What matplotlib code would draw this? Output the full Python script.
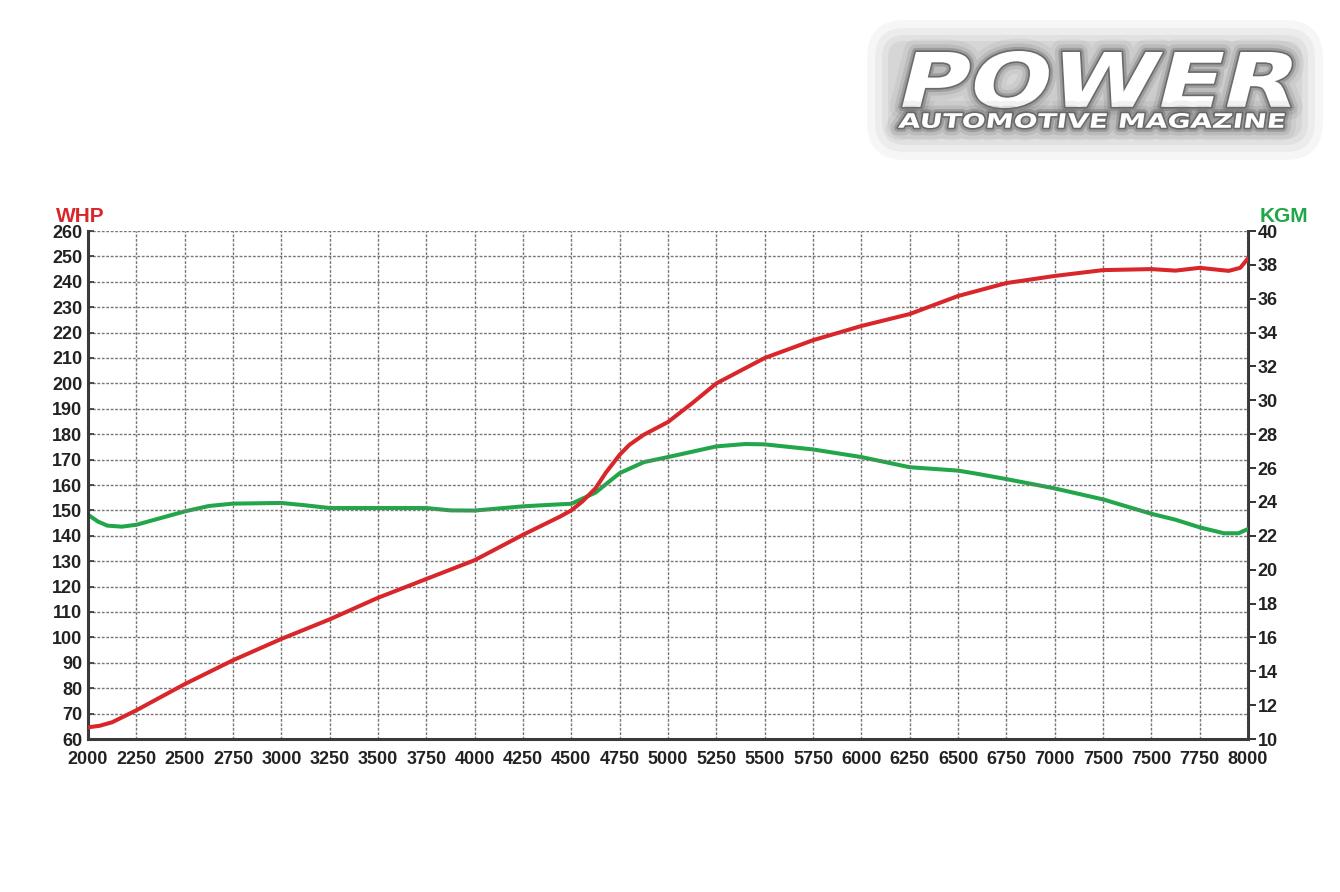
import matplotlib
matplotlib.use("Agg")
import math
import matplotlib.pyplot as plt
from matplotlib import font_manager
from matplotlib.textpath import TextPath
from matplotlib.patches import PathPatch, FancyBboxPatch
from matplotlib.transforms import Affine2D
import matplotlib.patheffects as pe

# ---------------- data ----------------
rpm_whp = [2000, 2060, 2125, 2250, 2500, 2750, 3000, 3250, 3500, 3750, 4000, 4250, 4440,
           4500, 4557, 4625, 4678, 4750, 4800, 4875, 4940, 5000, 5125, 5250, 5500, 5750,
           6000, 6250, 6500, 6750, 7000, 7250, 7500, 7625, 7750, 7900, 7960, 8000]
whp = [64.6, 65.2, 66.6, 71.3, 81.6, 91.0, 99.4, 107.1, 115.6, 123.0, 130.4, 140.4, 147.5,
       150.0, 153.5, 158.7, 164.8, 171.9, 175.8, 179.8, 182.4, 184.8, 192.2, 200.0, 210.0,
       217.0, 222.6, 227.3, 234.4, 239.5, 242.3, 244.6, 245.0, 244.4, 245.5, 244.3, 245.5,
       249.2]

rpm_kgm = [2000, 2050, 2100, 2175, 2250, 2500, 2625, 2750, 3000, 3125, 3250, 3500, 3750,
           3875, 4000, 4250, 4440, 4500, 4625, 4750, 4875, 5000, 5250, 5400, 5500,
           5750, 6000, 6250, 6500, 6600, 6750, 7000, 7250, 7500, 7625, 7750, 7875,
           7950, 8000]
kgm = [23.25, 22.85, 22.6, 22.54, 22.65, 23.44, 23.76, 23.9, 23.94, 23.8, 23.64, 23.64,
       23.64, 23.5, 23.49, 23.74, 23.86, 23.89, 24.55, 25.7, 26.35, 26.65, 27.28, 27.42,
       27.4, 27.1, 26.65, 26.05, 25.85, 25.66, 25.35, 24.8, 24.15, 23.3, 22.95, 22.5,
       22.15, 22.15, 22.4]

x_ticks = list(range(2000, 8001, 250))
x_labels = ['2000', '2250', '2500', '2750', '3000', '3250', '3500', '3750', '4000',
            '4250', '4500', '4750', '5000', '5250', '5500', '5750', '6000', '6250',
            '6500', '6750', '7000', '7500', '7500', '7750', '8000']
whp_ticks = list(range(60, 261, 10))
kgm_ticks = list(range(10, 41, 2))

RED = '#d8262a'
GREEN = '#22a64a'

FAM = ['Liberation Sans', 'DejaVu Sans']
TS = 13

W, H = 1340, 892
fig = plt.figure(figsize=(W / 100, H / 100), dpi=100)
fig.patch.set_facecolor('white')

L, R, T, B = 88, 1248, 231, 739
ax = fig.add_axes([L / W, 1 - B / H, (R - L) / W, (B - T) / H])
ax.set_xlim(2000, 8000)
ax.set_ylim(60, 260)

ax.set_xticks(x_ticks)
ax.set_xticklabels(x_labels, fontfamily=FAM, fontweight='bold', fontsize=TS, color='#222')
ax.set_yticks(whp_ticks)
ax.set_yticklabels([str(v) for v in whp_ticks], fontfamily=FAM, fontweight='bold',
                   fontsize=TS, color='#222')
ax.tick_params(axis='x', length=0, pad=9)
ax.tick_params(axis='y', length=4, width=1.2, direction='in', pad=4, color='#333')

ax.grid(True, color='#777777', linestyle=(0, (2, 1.2)), linewidth=1.0)
ax.spines['top'].set_visible(False)
ax.spines['right'].set_visible(False)
for s in ['left', 'bottom']:
    ax.spines[s].set_linewidth(2.2)
    ax.spines[s].set_color('#3a3a3a')

ax2 = ax.twinx()
ax2.set_ylim(10, 40)
ax2.set_yticks(kgm_ticks)
ax2.set_yticklabels([str(v) for v in kgm_ticks], fontfamily=FAM, fontweight='bold',
                    fontsize=TS, color='#222')
ax2.tick_params(axis='y', length=6, width=1.4, direction='out', pad=1, color='#333')
for s in ['top', 'left', 'bottom']:
    ax2.spines[s].set_visible(False)
ax2.spines['right'].set_linewidth(2.2)
ax2.spines['right'].set_color('#3a3a3a')

ax2.plot(rpm_kgm, kgm, color=GREEN, linewidth=2.9, solid_joinstyle='round',
         solid_capstyle='round', zorder=3)
ax.plot(rpm_whp, whp, color=RED, linewidth=2.9, solid_joinstyle='round',
        solid_capstyle='round', zorder=3)
ax.set_zorder(ax2.get_zorder() + 1)
ax.patch.set_visible(False)

fig.text(56 / W, 1 - 222 / H, 'WHP', color=RED, fontfamily=FAM, fontweight='bold',
         fontsize=15, ha='left', va='baseline')
fig.text(1308 / W, 1 - 222 / H, 'KGM', color=GREEN, fontfamily=FAM, fontweight='bold',
         fontsize=15, ha='right', va='baseline')

# ---------------- logo ----------------
ov = fig.add_axes([0, 0, 1, 1], zorder=-5)
ov.set_xlim(0, W)
ov.set_ylim(H, 0)
ov.axis('off')
ov.patch.set_visible(False)


def fit_text(s, x0, x1, ytop, ybot, skew=0.0):
    fp = font_manager.FontProperties(family='DejaVu Sans', weight='bold')
    tp = TextPath((0, 0), s, size=100, prop=fp)
    bb = tp.get_extents()
    sx = (x1 - x0) / bb.width
    sy = (ybot - ytop) / bb.height
    shift = math.tan(math.radians(skew)) * ybot
    tr = (Affine2D().translate(-bb.x0, -bb.y0).scale(sx, -sy)
          .translate(x0, ybot).skew_deg(-skew, 0).translate(shift, 0))
    return tr.transform_path(tp)


# soft gray haze behind the logo
for pad, a in [(28, 0.05), (20, 0.06), (13, 0.07), (7, 0.08)]:
    ov.add_patch(FancyBboxPatch(
        (895 - pad, 48 - pad), 400 + 2 * pad, 84 + 2 * pad,
        boxstyle='round,pad=0,rounding_size=%d' % (pad + 10),
        facecolor='#555555', edgecolor='none', alpha=a))

glow = [pe.Stroke(linewidth=18, foreground='#777777', alpha=0.10, joinstyle='round'),
        pe.Stroke(linewidth=11, foreground='#666666', alpha=0.16, joinstyle='round'),
        pe.Stroke(linewidth=6, foreground='#555555', alpha=0.30, joinstyle='round'),
        pe.Stroke(linewidth=2.5, foreground='#444444', alpha=0.55, joinstyle='round'),
        pe.Normal()]

p1 = fit_text('POWER', 902, 1290, 51, 108, skew=14)
ov.add_patch(PathPatch(p1, facecolor='white', edgecolor='none', path_effects=glow))
p2 = fit_text('AUTOMOTIVE MAGAZINE', 898, 1283, 113, 128, skew=8)
ov.add_patch(PathPatch(p2, facecolor='white', edgecolor='none', path_effects=glow))

fig.savefig('out.png', dpi=100, facecolor='white')
